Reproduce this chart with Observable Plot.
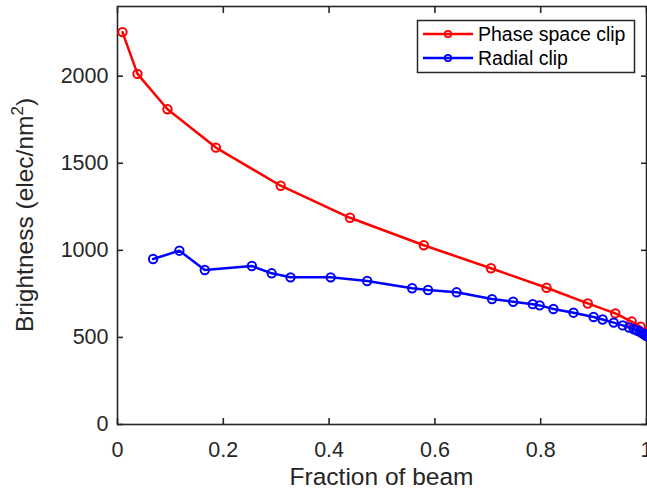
<!DOCTYPE html>
<html><head><meta charset="utf-8">
<script src="https://cdn.jsdelivr.net/npm/d3@7"></script>
<script src="https://cdn.jsdelivr.net/npm/@observablehq/plot@0.6"></script>
<style>body{margin:0;background:#fff}</style>
</head><body><div id="chart"></div>
<script>
const seriesNames = ["Phase space clip", "Radial clip"];
const seriesColors = ["#ff0000", "#0000ff"];
const phaseX = [0.0094, 0.0378, 0.0945, 0.186, 0.3085, 0.4395, 0.579, 0.706, 0.811, 0.889, 0.941, 0.972, 0.989, 1.0];
const phaseY = [2253, 2013, 1810, 1590, 1371, 1187, 1029, 897, 785, 695, 638, 591, 561, 530];
const radialX = [0.0673, 0.117, 0.165, 0.254, 0.2915, 0.327, 0.403, 0.472, 0.557, 0.587, 0.641, 0.708, 0.748, 0.785, 0.798, 0.824, 0.862, 0.900, 0.917, 0.938, 0.955, 0.967, 0.976, 0.982, 0.987, 0.991, 0.994, 0.997, 1.0];
const radialY = [950, 998, 887, 910, 868, 845, 845, 824, 782, 772, 759, 720, 705, 691, 684, 663, 642, 617, 603, 585, 569, 557, 547, 540, 533, 527, 521, 515, 508];
const xTicks = [0, 0.2, 0.4, 0.6, 0.8, 1];
const yTicks = [0, 500, 1000, 1500, 2000];
const xLabel = "Fraction of beam";
const yLabelMain = "Brightness (elec/nm";
const yLabelSup = "2";
const yLabelEnd = ")";

const phase = phaseX.map((x, i) => ({x, y: phaseY[i], s: seriesNames[0]}));
const radial = radialX.map((x, i) => ({x, y: radialY[i], s: seriesNames[1]}));

const axisColor = "#262626";
const font = "'Liberation Sans', Arial, Helvetica, sans-serif";

const chart = Plot.plot({
  width: 647, height: 492,
  marginLeft: 117, marginRight: 1, marginTop: 6, marginBottom: 68,
  style: {fontFamily: font, background: "#fff", overflow: "visible"},
  x: {domain: [0, 1]},
  y: {domain: [0, 2400]},
  marks: [
    Plot.frame({stroke: axisColor, strokeWidth: 1.6}),
    Plot.axisX(xTicks, {anchor: "bottom", tickSize: -6, text: null, label: null, stroke: axisColor, strokeWidth: 1.6}),
    Plot.axisX(xTicks, {anchor: "top", tickSize: -6, text: null, label: null, stroke: axisColor, strokeWidth: 1.6}),
    Plot.axisY(yTicks, {anchor: "left", tickSize: -6, text: null, label: null, stroke: axisColor, strokeWidth: 1.6}),
    Plot.axisY(yTicks, {anchor: "right", tickSize: -6, text: null, label: null, stroke: axisColor, strokeWidth: 1.6}),
    Plot.axisX(xTicks, {anchor: "bottom", tickSize: 0, tickPadding: 17, label: null, fontSize: 21.5, fill: axisColor, tickFormat: d => String(d)}),
    Plot.axisY(yTicks, {anchor: "left", tickSize: 0, tickPadding: 9, label: null, fontSize: 21.5, fill: axisColor, tickFormat: d => String(d)}),
    Plot.line(phase, {x: "x", y: "y", stroke: seriesColors[0], strokeWidth: 2.5}),
    Plot.dot(phase, {x: "x", y: "y", stroke: seriesColors[0], fill: "none", r: 4.2, strokeWidth: 2}),
    Plot.line(radial, {x: "x", y: "y", stroke: seriesColors[1], strokeWidth: 2.5}),
    Plot.dot(radial, {x: "x", y: "y", stroke: seriesColors[1], fill: "none", r: 4.2, strokeWidth: 2})
  ]
});
document.getElementById("chart").appendChild(chart);

const svg = d3.select(chart);
// x axis label
svg.append("text")
  .attr("x", 381.5).attr("y", 485)
  .attr("text-anchor", "middle")
  .attr("font-family", font).attr("font-size", 24.5).attr("fill", axisColor)
  .text(xLabel);
// y axis label
const yl = svg.append("text")
  .attr("transform", "translate(33,215) rotate(-90)")
  .attr("text-anchor", "middle")
  .attr("font-family", font).attr("font-size", 24.5).attr("fill", axisColor);
yl.append("tspan").text(yLabelMain);
yl.append("tspan").attr("font-size", 17).attr("dy", -10).text(yLabelSup);
yl.append("tspan").attr("dy", 10).text(yLabelEnd);

// legend
const lg = svg.append("g");
lg.append("rect").attr("x", 417.5).attr("y", 20.5).attr("width", 217).attr("height", 52)
  .attr("fill", "#fff").attr("stroke", axisColor).attr("stroke-width", 1.5);
seriesNames.forEach((name, i) => {
  const cy = 34 + i * 24;
  lg.append("line").attr("x1", 423).attr("x2", 473).attr("y1", cy).attr("y2", cy)
    .attr("stroke", seriesColors[i]).attr("stroke-width", 2.5);
  lg.append("circle").attr("cx", 448).attr("cy", cy).attr("r", 3.2)
    .attr("fill", "none").attr("stroke", seriesColors[i]).attr("stroke-width", 1.8);
  lg.append("text").attr("x", 478).attr("y", cy + 7)
    .attr("text-anchor", "start")
    .attr("font-family", font).attr("font-size", 19.5).attr("fill", "#000").text(name);
});
</script>
</body></html>
